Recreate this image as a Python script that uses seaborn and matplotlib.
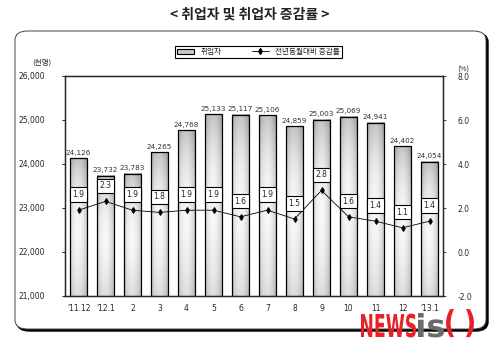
import numpy as np
import pandas as pd
import matplotlib
matplotlib.use("Agg")
import matplotlib.pyplot as plt
import seaborn as sns
from matplotlib.patches import FancyBboxPatch, Patch, PathPatch
from matplotlib.lines import Line2D
from matplotlib.textpath import TextPath
from matplotlib.font_manager import FontProperties
from matplotlib.transforms import Affine2D

# data
months = ["'11.12", "'12.1", "2", "3", "4", "5", "6", "7", "8", "9", "10", "11", "12", "'13.1"]
employed = [24126, 23732, 23783, 24265, 24768, 25133, 25117, 25106, 24859, 25003, 25069, 24941, 24402, 24054]
growth = [1.9, 2.3, 1.9, 1.8, 1.9, 1.9, 1.6, 1.9, 1.5, 2.8, 1.6, 1.4, 1.1, 1.4]
left_ticks = [21000, 22000, 23000, 24000, 25000, 26000]
right_ticks = [-2.0, 0.0, 2.0, 4.0, 6.0, 8.0]

df = pd.DataFrame({"month": months, "employed": employed, "growth": growth})

sns.set_style("white")
plt.rcParams["font.family"] = ["Noto Sans CJK KR", "DejaVu Sans"]

W, H = 500, 359
fig = plt.figure(figsize=(W / 100, H / 100), dpi=100)
fig.patch.set_facecolor("white")

# rounded frame with a heavy shadow on the right / bottom
shadow = FancyBboxPatch((17 / W, 1 - 331 / H), 471 / W, 298 / H,
                        boxstyle="round,pad=0,rounding_size=0.025",
                        transform=fig.transFigure, facecolor="black",
                        edgecolor="black", zorder=-2)
frame = FancyBboxPatch((15 / W, 1 - 329 / H), 471 / W, 298 / H,
                       boxstyle="round,pad=0,rounding_size=0.025",
                       transform=fig.transFigure, facecolor="white",
                       edgecolor="#444444", linewidth=0.7, zorder=-1)
fig.patches.extend([shadow, frame])

ax = fig.add_axes([65 / W, 1 - 296 / H, 378 / W, 220 / H])
ax.set_facecolor("white")

sns.barplot(data=df, x="month", y="employed", ax=ax, width=0.66,
            facecolor="none", edgecolor="black", linewidth=0.9, zorder=3)

# gradient fill inside each bar: grey top, light middle band, grey edges
u = np.linspace(-1, 1, 40)
v = np.linspace(1, 0, 80)
uu, vv = np.meshgrid(u, v)
up = np.clip((vv - 0.45) / 0.55, 0, 1)
lo = np.clip((0.45 - vv) / 0.45, 0, 1)
dv = 0.2 * up ** 2.2 + 0.1 * lo ** 1.5
dh = 0.17 * np.clip(np.abs(uu + 0.1), 0, 1) ** 2
shade = np.clip(1 - (0.03 + dv + dh), 0, 1)
for p in ax.patches:
    x0, w = p.get_x(), p.get_width()
    top = p.get_height()
    ax.imshow(shade, cmap="gray", vmin=0, vmax=1, aspect="auto",
              extent=(x0, x0 + w, 21000, top), zorder=2, interpolation="bilinear")
ax.set_ylim(21000, 26000)
ax.set_xlim(-0.5, len(months) - 0.5)

for i, val in enumerate(employed):
    ax.text(i, val + 60, f"{val:,}", ha="center", va="bottom",
            fontsize=5.2, color="#333333", family="DejaVu Sans")

ax.set_yticks(left_ticks)
ax.set_yticklabels([f"{t:,}" for t in left_ticks], fontsize=5.5, family="DejaVu Sans")
ax.set_xticks(range(len(months)))
ax.set_xticklabels(months, fontsize=5.5, family="DejaVu Sans")
ax.tick_params(axis="y", length=2.5, width=0.6, pad=12, color="black")
ax.tick_params(axis="x", length=0, pad=6)
ax.set_xlabel("")
ax.set_ylabel("")
for s in ax.spines.values():
    s.set_linewidth(0.9)
    s.set_color("black")

ax2 = ax.twinx()
sns.lineplot(x=np.arange(len(months)), y=growth, ax=ax2, color="black",
             linewidth=0.6, marker="d", markersize=3, markeredgecolor="black",
             zorder=4)
ax2.set_ylim(-2, 8)
ax2.set_yticks(right_ticks)
ax2.set_yticklabels([f"{t:.1f}" for t in right_ticks], fontsize=5.5, family="DejaVu Sans")
ax2.tick_params(axis="y", length=2.5, width=0.6, pad=8)
for s in ax2.spines.values():
    s.set_linewidth(0.9)

for i, g in enumerate(growth):
    ax2.annotate(f"{g:.1f}", (i, g), xytext=(0, 8), textcoords="offset points",
                 ha="center", va="bottom", fontsize=5.5, family="DejaVu Sans",
                 bbox=dict(boxstyle="square,pad=0.35", facecolor="white",
                           edgecolor="black", linewidth=0.8), zorder=5)

# titles / units
fig.text(0.5, 1 - 15 / H, "< 취업자 및 취업자 증감률 >", ha="center", va="center",
         fontsize=10, fontweight="bold", color="#222222")
fig.text(42 / W, 1 - 63 / H, "(천명)", ha="center", va="center", fontsize=5.5)
fig.text(463 / W, 1 - 70 / H, "(%)", ha="center", va="center", fontsize=5.5)

# legend
handles = [Patch(facecolor="#c8c8c8", edgecolor="black", linewidth=0.8),
           Line2D([], [], color="black", linewidth=0.6, marker="d", markersize=3)]
leg = fig.legend(handles, ["취업자", "전년동월대비 증감률"], loc="center", ncol=2,
                 bbox_to_anchor=(155 / W, 1 - 60 / H, 207 / W, 16 / H),
                 fontsize=5.5, frameon=True, fancybox=False, edgecolor="black",
                 handlelength=2.2, handleheight=0.7, columnspacing=4,
                 borderpad=0.3, framealpha=1)
leg.get_frame().set_linewidth(0.8)

# condensed "NEWSis( )" watermark drawn as stretched text paths (pixel coords)
wm = fig.add_axes([0, 0, 1, 1], zorder=10)
wm.set_xlim(0, W)
wm.set_ylim(H, 0)
wm.axis("off")
fp = FontProperties(family="DejaVu Sans", weight="bold")
pieces = [("NEWS", 361, 416, "#e8202a", 337), ("is", 418, 444, "#6b6b6b", 337),
          ("(", 446, 454, "#e8202a", 333), (")", 466, 474, "#e8202a", 333)]
for txt, xa, xb, col, base in pieces:
    tp = TextPath((0, 0), txt, size=10, prop=fp)
    bb = tp.get_extents()
    sx = (xb - xa) / bb.width
    sy = 23 / 7.3
    tr = Affine2D().translate(-bb.x0, 0).scale(sx, -sy).translate(xa, base)
    wm.add_patch(PathPatch(tr.transform_path(tp), facecolor=col, edgecolor="none"))

fig.savefig("out.png", dpi=100)
